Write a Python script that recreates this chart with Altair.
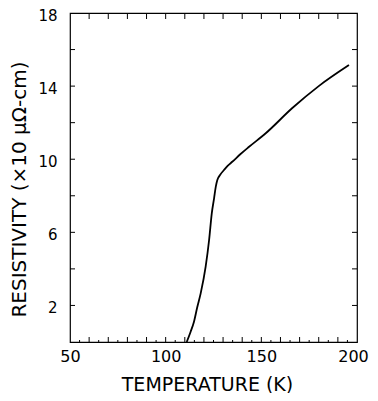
import altair as alt
import pandas as pd

# Resistivity curve
temperature = [111.0, 113.0, 114.8, 116.5, 118.3, 120.9, 122.7, 124.1, 125.3, 126.2,
               127.0, 128.5, 130.5, 132.5, 134.8, 139.0, 143.6, 152.3, 166.2, 180.0, 195.8]
resistivity = [0.0, 0.55, 1.11, 1.9, 2.66, 4.12, 5.58, 7.04, 7.86, 8.5,
               8.86, 9.15, 9.41, 9.65, 9.86, 10.27, 10.68, 11.42, 12.8, 14.0, 15.15]

x_labels = [50, 100, 150, 200]
y_labels = [2, 6, 10, 14, 18]
x_ticks = [60, 70, 80, 90, 100, 110, 120, 130, 140, 150, 160, 170, 180, 190]
x_minor = [55, 65, 75, 85, 95, 105, 115, 125, 135, 145, 155, 165, 175, 185, 195]
y_ticks = [2, 4, 6, 8, 10, 12, 14, 16]

W, H = 287, 329
FONT = "DejaVu Sans"

curve = pd.DataFrame({"T": temperature, "R": resistivity})
xt = pd.DataFrame({"T": x_ticks})
xm = pd.DataFrame({"T": x_minor})
yt = pd.DataFrame({"R": y_ticks})

xscale = alt.Scale(domain=[50, 200], nice=False, zero=False)
yscale = alt.Scale(domain=[0, 18], nice=False, zero=False)

xaxis = alt.Axis(values=x_labels, title="TEMPERATURE (K)", ticks=False, domain=False,
                 grid=False, labelFlush=False, labelOverlap=False,
                 labelFont=FONT, labelFontSize=16, labelColor="black",
                 labelPadding=6, labelFontWeight="normal",
                 labelOffset={"condition": {"test": "datum.value == 200", "value": -4}, "value": 0},
                 titleFont=FONT, titleFontSize=19, titleFontWeight="normal",
                 titleColor="black", titleX=137, titleY=33, titleBaseline="top")
yaxis = alt.Axis(values=y_labels, title="RESISTIVITY (×10 μΩ-cm)", ticks=False,
                 domain=False, grid=False, labelFlush=False, labelOverlap=False,
                 labelFont=FONT, labelFontSize=15, labelColor="black",
                 labelPadding=13, labelOffset=2,
                 titleFont=FONT, titleFontSize=20, titleFontWeight="normal",
                 titleColor="black", titleX=-41, titleY=176)

X = alt.X("T:Q", scale=xscale, axis=xaxis)
Y = alt.Y("R:Q", scale=yscale, axis=yaxis)

line = alt.Chart(curve).mark_line(color="black", strokeWidth=1.8, interpolate="monotone").encode(
    x=X, y=Y, order=alt.Order("T:Q"),
)

bottom = alt.Chart(xt).mark_rule(color="black", strokeWidth=1).encode(
    x=X, y=alt.value(H), y2=alt.value(H - 5))
bottom_minor = alt.Chart(xm).mark_rule(color="black", strokeWidth=1).encode(
    x=X, y=alt.value(H), y2=alt.value(H - 2))
top = alt.Chart(xt).mark_rule(color="black", strokeWidth=1).encode(
    x=X, y=alt.value(0), y2=alt.value(6))
left = alt.Chart(yt).mark_rule(color="black", strokeWidth=1).encode(
    y=Y, x=alt.value(0), x2=alt.value(5))
right = alt.Chart(yt).mark_rule(color="black", strokeWidth=1).encode(
    y=Y, x=alt.value(W), x2=alt.value(W - 5))

chart = alt.layer(line, bottom, bottom_minor, top, left, right).properties(
    width=W, height=H,
    background="white",
    autosize=alt.AutoSizeParams(type="none"),
    padding={"left": 62, "top": 5, "right": 13, "bottom": 51},
).configure_view(stroke="black", strokeWidth=1.2)

chart.save("out.html", embed_options={"renderer": "svg", "actions": False})
